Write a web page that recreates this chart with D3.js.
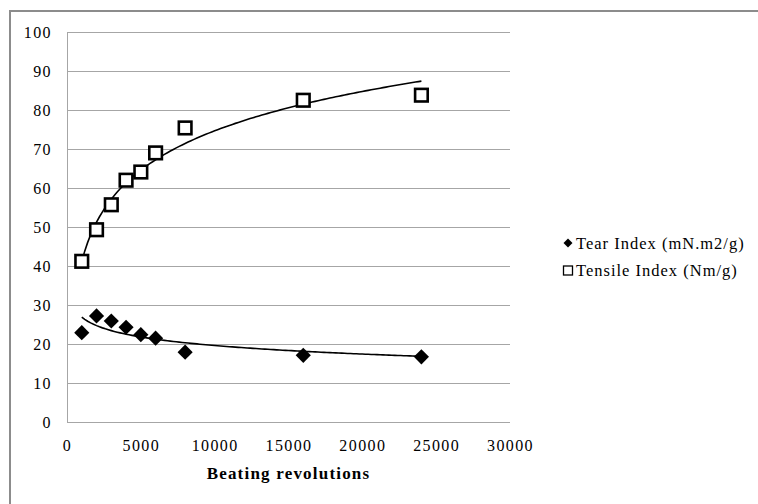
<!DOCTYPE html>
<html>
<head>
<meta charset="utf-8">
<script src="https://cdn.jsdelivr.net/npm/d3@7"></script>
<style>
  html, body { margin: 0; padding: 0; background: #fff; }
  #chart { width: 758px; height: 504px; }
</style>
</head>
<body>
<div id="chart"></div>
<script>
// beating revolutions (x), shared by both series
const REVS = [1000, 2000, 3000, 4000, 5000, 6000, 8000, 16000, 24000];
// tear index, mN.m2/g
const TEAR = [22.9, 27.2, 25.9, 24.3, 22.4, 21.5, 17.9, 17.1, 16.7];
// tensile index, Nm/g
const TENSILE = [41.2, 49.3, 55.7, 62.0, 64.1, 69.0, 75.4, 82.5, 83.8];
const X_TICKS = [0, 5000, 10000, 15000, 20000, 25000, 30000];
const Y_TICKS = [0, 10, 20, 30, 40, 50, 60, 70, 80, 90, 100];
const LEGEND = ["Tear Index (mN.m2/g)", "Tensile Index (Nm/g)"];
const X_TITLE = "Beating revolutions";

const W = 758, H = 504;
const m = { t: 32, r: 248, b: 82, l: 67 };
const iw = W - m.l - m.r, ih = H - m.t - m.b;
const FONT = "'Liberation Serif', 'Times New Roman', serif";
const GRID = "#a6a6a6";

const svg = d3.select("#chart").append("svg")
  .attr("width", W).attr("height", H).attr("viewBox", `0 0 ${W} ${H}`);

// chart frame (runs off the right/bottom like the cropped original)
svg.append("rect").attr("x", 10).attr("y", 11).attr("width", W + 10).attr("height", H + 10)
  .attr("fill", "#fff").attr("stroke", "#8c8c8c").attr("stroke-width", 2);

const g = svg.append("g").attr("transform", `translate(${m.l},${m.t})`);

const x = d3.scaleLinear().domain([0, 30000]).range([0, iw]);
const y = d3.scaleLinear().domain([0, 100]).range([ih, 0]);

// gridlines
g.append("g").selectAll("line").data(Y_TICKS).join("line")
  .attr("x1", 0).attr("x2", iw)
  .attr("y1", d => Math.round(y(d)) + 0.5).attr("y2", d => Math.round(y(d)) + 0.5)
  .attr("stroke", GRID).attr("stroke-width", 1);
g.append("line").attr("x1", 0.5).attr("x2", 0.5).attr("y1", 0).attr("y2", ih)
  .attr("stroke", GRID).attr("stroke-width", 1);

// axes (labels only; Excel style)
const yAx = g.append("g").call(d3.axisLeft(y).tickValues(Y_TICKS).tickSize(0).tickPadding(15));
const xAx = g.append("g").attr("transform", `translate(0,${ih})`)
  .call(d3.axisBottom(x).tickValues(X_TICKS).tickSize(0).tickPadding(18).tickFormat(d3.format("d")));
[yAx, xAx].forEach(a => {
  a.select(".domain").remove();
  a.selectAll("text").attr("font-family", FONT).attr("font-size", 16)
    .attr("letter-spacing", "1.4px").attr("fill", "#000");
});

g.append("text").attr("x", x(15000)).attr("y", ih + 57).attr("text-anchor", "middle")
  .attr("font-family", FONT).attr("font-size", 17).attr("font-weight", "bold")
  .attr("letter-spacing", "1.2px").text(X_TITLE);

// logarithmic trendline, least squares: y = a ln(x) + b
function logFit(xs, ys) {
  const lx = xs.map(Math.log);
  const mx = d3.mean(lx), my = d3.mean(ys);
  const a = d3.sum(lx, (v, i) => (v - mx) * (ys[i] - my)) / d3.sum(lx, v => (v - mx) ** 2);
  return v => a * Math.log(v) + (my - a * mx);
}
const samples = d3.range(REVS[0], d3.max(REVS) + 1, 200);
const line = d3.line().x(d => x(d[0])).y(d => y(d[1]));
[TENSILE, TEAR].forEach(vals => {
  const f = logFit(REVS, vals);
  g.append("path").datum(samples.map(v => [v, f(v)]))
    .attr("fill", "none").attr("stroke", "#000").attr("stroke-width", 1.6).attr("d", line);
});

// markers
const diamond = d3.symbol().type(d3.symbolSquare).size(115);
g.append("g").selectAll("path").data(REVS.map((r, i) => [r, TEAR[i]])).join("path")
  .attr("d", diamond)
  .attr("transform", d => `translate(${x(d[0])},${y(d[1])}) rotate(45)`)
  .attr("fill", "#000");
g.append("g").selectAll("rect").data(REVS.map((r, i) => [r, TENSILE[i]])).join("rect")
  .attr("x", d => x(d[0]) - 6.3).attr("y", d => y(d[1]) - 6.3)
  .attr("width", 12.6).attr("height", 12.6)
  .attr("fill", "#fff").attr("stroke", "#000").attr("stroke-width", 2.6);

// legend
const lg = svg.append("g").attr("transform", "translate(568,243)");
lg.append("path").attr("d", d3.symbol().type(d3.symbolSquare).size(40))
  .attr("transform", "rotate(45)").attr("fill", "#000");
lg.append("rect").attr("x", -4.5).attr("y", 23).attr("width", 9).attr("height", 9)
  .attr("fill", "#fff").attr("stroke", "#000").attr("stroke-width", 1.3);
lg.selectAll("text").data(LEGEND).join("text")
  .attr("x", 8).attr("y", (d, i) => i * 27).attr("dy", "0.35em")
  .attr("font-family", FONT).attr("font-size", 16.5).attr("letter-spacing", "1px")
  .text(d => d);
</script>
</body>
</html>
